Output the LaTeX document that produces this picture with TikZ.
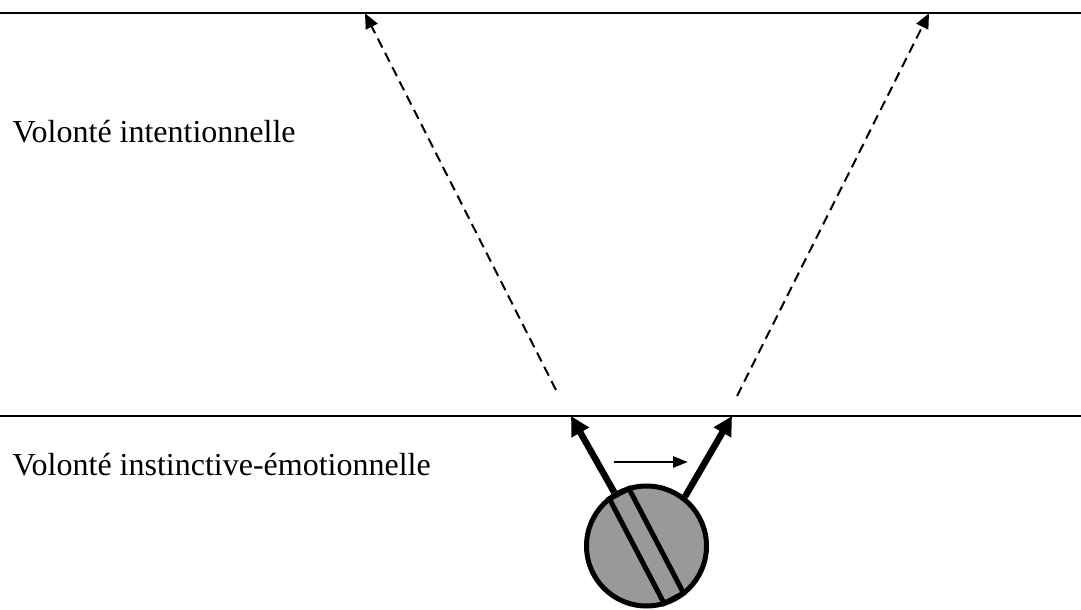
\documentclass[tikz,border=0pt]{standalone}
\usepackage{fontspec}
\setmainfont{Liberation Serif}
\usetikzlibrary{arrows.meta}
\definecolor{ballgray}{HTML}{999999}
\tikzset{
  levelline/.style={line width=2pt},
  dasharrow/.style={line width=2pt, dash pattern=on 10pt off 6pt, -{Triangle[length=15pt,width=13pt]}},
  pusharrow/.style={line width=6.5pt, -{Triangle[length=19pt,width=19pt]}},
  levellabel/.style={anchor=base west, inner sep=0pt, font=\fontsize{32}{36}\selectfont}
}
\begin{document}
\begin{tikzpicture}[x=1pt,y=1pt]
  \useasboundingbox (0,0) rectangle (1081,610);
  % les deux niveaux
  \coordinate (topL) at (0,596.7);
  \coordinate (topR) at (1081,596.7);
  \coordinate (lowL) at (0,194);
  \coordinate (lowR) at (1081,194);
  \draw[levelline] (topL) -- (topR);
  \draw[levelline] (lowL) -- (lowR);

  \node[levellabel] (intent) at (12.5,467) {Volonté intentionnelle};
  \node[levellabel] (instinct) at (12.5,134) {Volonté instinctive-émotionnelle};

  % la boule
  \node[circle, draw, line width=5pt, fill=ballgray, minimum size=120pt, inner sep=0pt] (ball) at (646.5,64) {};
  \draw[line width=5pt, fill=ballgray, shift={(ball.center)}, rotate=-62.4] (-59,-11) rectangle (59,11);

  % poussees vers le niveau superieur
  \coordinate (hitL) at (571,194);
  \coordinate (hitR) at (732,194);
  \draw[pusharrow] (ball.121.7) -- (hitL);
  \draw[pusharrow] (ball.52.7) -- (hitR);

  \coordinate (moveA) at (614,148);
  \coordinate (moveB) at (688,148);
  \draw[line width=2.5pt, -{Triangle[length=15pt,width=11pt]}] (moveA) -- (moveB);

  % prolongements en pointilles
  \coordinate (dashL) at (556,220);
  \coordinate (dashR) at (737,214);
  \coordinate (aimL) at (365,596.7);
  \coordinate (aimR) at (929,596.7);
  \draw[dasharrow] (dashL) -- (aimL);
  \draw[dasharrow] (dashR) -- (aimR);
\end{tikzpicture}
\end{document}
